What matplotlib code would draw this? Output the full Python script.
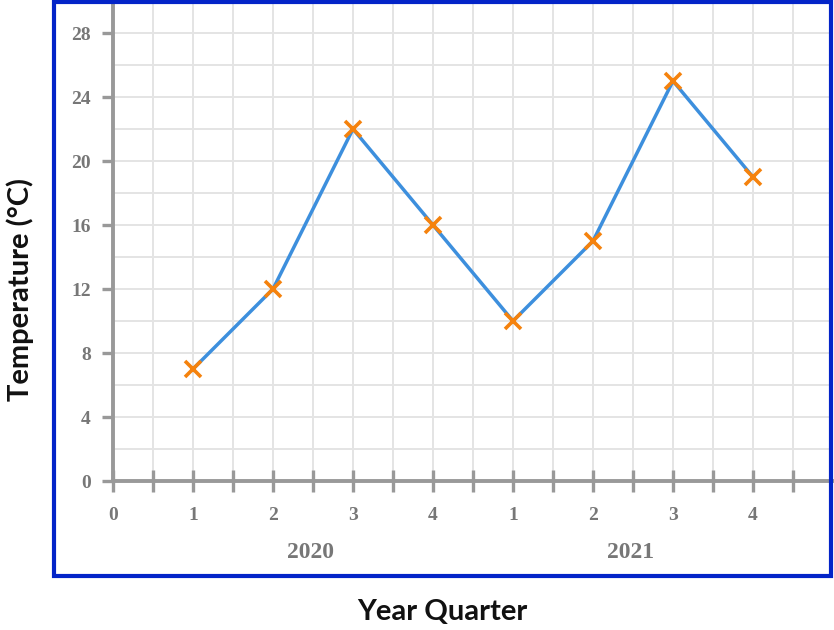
import matplotlib.pyplot as plt
import numpy as np
from matplotlib.patches import Rectangle

# data
temps = [7, 12, 22, 16, 10, 15, 25, 19]
quarter_labels = ['0', '1', '2', '3', '4', '1', '2', '3', '4']
years = ['2020', '2021']
year_centres = [2.5, 6.5]
y_ticks = [0, 4, 8, 12, 16, 20, 24, 28]

W, H = 834, 630
fig = plt.figure(figsize=(W / 100, H / 100), dpi=100)

# axes: x=0 at px 113, x=9 at px 833; y=0 at px 481, y=30 at px 1
ax = fig.add_axes([113 / W, (H - 481) / H, 720 / W, 480 / H])
ax.set_xlim(0, 9)
ax.set_ylim(0, 30)

grey = '#999999'
label_grey = '#777777'

# grid
for gx in np.arange(0.5, 8.51, 0.5):
    ax.axvline(gx, color='#e4e4e4', lw=1.4, zorder=0)
for gy in np.arange(2, 30.1, 2):
    ax.axhline(gy, color='#e4e4e4', lw=1.4, zorder=0)

for s in ['top', 'right']:
    ax.spines[s].set_visible(False)
for s in ['left', 'bottom']:
    ax.spines[s].set_color(grey)
    ax.spines[s].set_linewidth(2.8)
    ax.spines[s].set_zorder(2)

x = np.arange(1, len(temps) + 1)
ax.plot(x, temps, color='#3d8fdd', lw=2.5, zorder=3, clip_on=False)
ax.plot(x, temps, ls='none', marker='x', ms=11.5, mew=2.6, color='#f5820d',
        zorder=4, clip_on=False)

# ticks
ax.set_xticks(range(len(quarter_labels)))
ax.set_xticklabels(quarter_labels)
ax.set_xticks(np.arange(0.5, 8.51, 1.0), minor=True)
ax.tick_params(axis='x', which='both', direction='inout', length=16,
               width=2.4, color=grey, pad=11)
ax.tick_params(axis='x', which='major', labelsize=14, labelcolor=label_grey)
ax.set_yticks(y_ticks)
ax.tick_params(axis='y', direction='out', length=8, width=2.4, color=grey,
               pad=8, labelsize=14, labelcolor=label_grey)
for t in ax.get_xticklabels() + ax.get_yticklabels():
    t.set_family('Liberation Serif')
    t.set_fontweight('bold')

for yr, cx in zip(years, year_centres):
    ax.text(cx - 0.03, -4.5, yr, ha='center', va='center', fontsize=17,
            family='Liberation Serif', fontweight='bold', color=label_grey,
            clip_on=False)

# outer blue frame
fig.patches.append(Rectangle((54 / W, (H - 576) / H), 777 / W, 574 / H,
                             transform=fig.transFigure, fill=False,
                             edgecolor='#0324c8', lw=3, zorder=10))

fig.text(20 / W, 1 - 290 / H, 'Temperature (°C)', rotation=90, ha='center',
         va='center', fontsize=21, family='Lato', fontweight='bold',
         color='#111111')
fig.text(442 / W, 1 - 612 / H, 'Year Quarter', ha='center', va='center',
         fontsize=21, family='Lato', fontweight='bold', color='#111111')

fig.savefig('out.png', dpi=100)
